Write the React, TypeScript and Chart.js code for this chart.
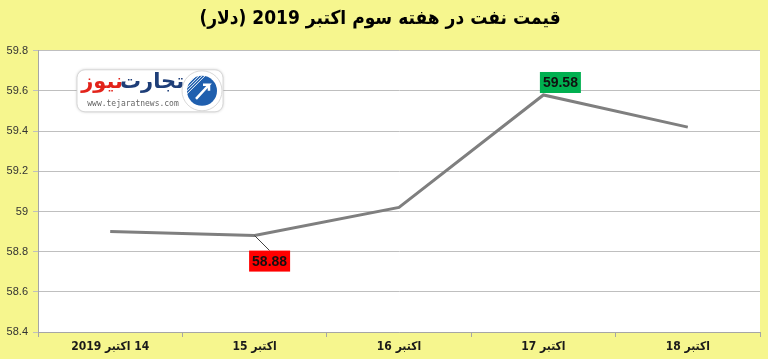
import React, { useEffect, useRef } from "react";
import { Chart, registerables } from "chart.js";

Chart.register(...registerables);

const TITLE = "قیمت نفت در هفته سوم اکتبر 2019 (دلار)";
const CATEGORIES = ["2019 اکتبر \u200E14", "15 اکتبر", "16 اکتبر", "17 اکتبر", "18 اکتبر"];
const PRICES = [58.9, 58.88, 59.02, 59.58, 59.42];
const Y_MIN = 58.4;
const Y_MAX = 59.8;
const Y_STEP = 0.2;
// labelled points: index, text, background colour, placement
const LABEL_INDEX = [1, 3];
const LABEL_TEXT = ["58.88", "59.58"];
const LABEL_COLOR = ["#FF0000", "#00B050"];
const LABEL_PLACE = ["below", "above"];
const LOGO_BRAND_A = "تجارت";
const LOGO_BRAND_B = "نیوز";
const LOGO_URL = "www.tejaratnews.com";

const BG = "#F6F68E";

function roundRect(ctx: CanvasRenderingContext2D, x: number, y: number, w: number, h: number, r: number) {
  ctx.beginPath();
  ctx.moveTo(x + r, y);
  ctx.lineTo(x + w - r, y);
  ctx.arc(x + w - r, y + r, r, -Math.PI / 2, 0);
  ctx.lineTo(x + w, y + h - r);
  ctx.arc(x + w - r, y + h - r, r, 0, Math.PI / 2);
  ctx.lineTo(x + r, y + h);
  ctx.arc(x + r, y + h - r, r, Math.PI / 2, Math.PI);
  ctx.lineTo(x, y + r);
  ctx.arc(x + r, y + r, r, Math.PI, Math.PI * 1.5);
  ctx.closePath();
}

const bgPlugin = {
  id: "bgPlugin",
  beforeDraw(chart: any) {
    const { ctx, width, height, chartArea } = chart;
    ctx.save();
    ctx.fillStyle = BG;
    ctx.fillRect(0, 0, width, height);
    ctx.fillStyle = "#FFFFFF";
    ctx.fillRect(chartArea.left, chartArea.top, chartArea.right - chartArea.left, chartArea.bottom - chartArea.top);
    ctx.restore();
  },
};

const labelPlugin = {
  id: "labelPlugin",
  afterDatasetsDraw(chart: any) {
    const { ctx, chartArea } = chart;
    const meta = chart.getDatasetMeta(0);
    ctx.save();
    // logo watermark
    const lx = chartArea.left + 39;
    const ly = chartArea.top + 19;
    const lw = 146;
    const lh = 42;
    ctx.shadowColor = "rgba(0,0,0,0.25)";
    ctx.shadowBlur = 3;
    roundRect(ctx, lx, ly, lw, lh, 8);
    ctx.fillStyle = "#FFFFFF";
    ctx.fill();
    ctx.shadowBlur = 0;
    ctx.shadowColor = "transparent";
    ctx.strokeStyle = "#D8D8D8";
    ctx.lineWidth = 1;
    ctx.stroke();
    // circle emblem
    const cx = lx + 125;
    const cy = ly + 21;
    ctx.beginPath();
    ctx.arc(cx, cy, 20, 0, Math.PI * 2);
    ctx.fillStyle = "#FFFFFF";
    ctx.fill();
    ctx.strokeStyle = "#D8D8D8";
    ctx.stroke();
    ctx.beginPath();
    ctx.arc(cx, cy, 15, 0, Math.PI * 2);
    ctx.fillStyle = "#1F5FAE";
    ctx.fill();
    ctx.strokeStyle = "#FFFFFF";
    ctx.lineWidth = 1;
    for (let i = -3; i <= 1; i++) {
      ctx.beginPath();
      ctx.moveTo(cx - 15, cy + i * 3);
      ctx.lineTo(cx + i * 3, cy - 15);
      ctx.stroke();
    }
    ctx.beginPath();
    ctx.moveTo(cx - 6, cy + 8);
    ctx.lineTo(cx + 7, cy - 6);
    ctx.lineTo(cx + 1, cy - 6);
    ctx.moveTo(cx + 7, cy - 6);
    ctx.lineTo(cx + 7, cy);
    ctx.lineWidth = 2.5;
    ctx.stroke();
    // brand text
    ctx.textBaseline = "middle";
    ctx.textAlign = "center";
    ctx.font = "bold 21px 'DejaVu Sans'";
    ctx.fillStyle = "#1E3E78";
    ctx.fillText(LOGO_BRAND_A, lx + 75, ly + 13);
    ctx.fillStyle = "#E2231A";
    ctx.fillText(LOGO_BRAND_B, lx + 25, ly + 13);
    ctx.font = "8px 'DejaVu Sans Mono'";
    ctx.fillStyle = "#666666";
    ctx.fillText(LOGO_URL, lx + 56, ly + 34);

    // data labels
    ctx.font = "bold 14px 'Liberation Sans', Arial";
    LABEL_INDEX.forEach((idx, k) => {
      const pt = meta.data[idx];
      if (!pt) return;
      const w = 41;
      const h = 21;
      let bx: number, by: number;
      if (LABEL_PLACE[k] === "below") {
        bx = pt.x + 15 - w / 2;
        by = pt.y + 15;
        ctx.strokeStyle = "#404040";
        ctx.lineWidth = 1;
        ctx.beginPath();
        ctx.moveTo(pt.x, pt.y);
        ctx.lineTo(pt.x + 15, by);
        ctx.stroke();
      } else {
        bx = pt.x + 17 - w / 2;
        by = pt.y - 2 - h;
      }
      ctx.fillStyle = LABEL_COLOR[k];
      ctx.fillRect(bx, by, w, h);
      ctx.fillStyle = "#111111";
      ctx.textAlign = "center";
      ctx.textBaseline = "middle";
      ctx.fillText(LABEL_TEXT[k], bx + w / 2, by + h / 2 + 1);
    });
    ctx.restore();
  },
};

export default function App() {
  const ref = useRef<HTMLCanvasElement | null>(null);
  useEffect(() => {
    document.body.style.margin = "0";
    const canvas = ref.current;
    if (!canvas) return;
    const chart = new Chart(canvas, {
      type: "line",
      data: {
        labels: CATEGORIES,
        datasets: [
          {
            data: PRICES,
            borderColor: "#7F7F7F",
            borderWidth: 3,
            pointRadius: 0,
            tension: 0,
            fill: false,
          },
        ],
      },
      options: {
        animation: false,
        responsive: false,
        maintainAspectRatio: false,
        layout: { padding: { left: 0, right: 8, top: 0, bottom: 0 } },
        plugins: {
          legend: { display: false },
          tooltip: { enabled: false },
          title: {
            display: true,
            text: TITLE,
            color: "#000000",
            font: { family: "'DejaVu Sans Condensed', 'DejaVu Sans'", size: 19, weight: "bold" },
            padding: { top: 8, bottom: 20 },
          },
        },
        scales: {
          x: {
            offset: true,
            afterFit: (s: any) => {
              s.height = 27;
            },
            grid: {
              offset: true,
              drawOnChartArea: false,
              drawTicks: true,
              tickLength: 5,
              color: "#A6A6A6",
            },
            border: { color: "#A6A6A6", width: 1 },
            ticks: {
              color: "#1A1A1A",
              padding: 3,
              maxRotation: 0,
              autoSkip: false,
              font: { family: "'Liberation Sans Narrow', 'DejaVu Sans Condensed', 'Liberation Sans', Arial", size: 12, weight: "bold" },
            },
          },
          y: {
            min: Y_MIN,
            max: Y_MAX,
            afterFit: (s: any) => {
              s.width = 38;
            },
            grid: {
              color: "#BFBFBF",
              lineWidth: 1,
              drawTicks: true,
              tickLength: 5,
            },
            border: { color: "#A6A6A6", width: 1 },
            ticks: {
              stepSize: Y_STEP,
              color: "#333333",
              padding: 5,
              font: { family: "'Liberation Sans', Arial", size: 11 },
              callback: (v: any) => String(Number(Number(v).toFixed(1))),
            },
          },
        },
      },
      plugins: [bgPlugin, labelPlugin],
    });
    return () => chart.destroy();
  }, []);
  return (
    <div style={{ position: "fixed", left: 0, top: 0, width: 768, height: 359 }}>
      <canvas ref={ref} width={768} height={359} style={{ display: "block", width: 768, height: 359 }} />
    </div>
  );
}
